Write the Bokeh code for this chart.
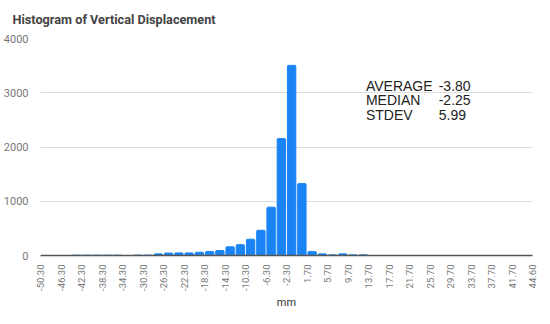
import math
from bokeh.plotting import figure
from bokeh.models import Range1d, FixedTicker, Label, ColumnDataSource, Title
from bokeh.embed import file_html
from bokeh.resources import INLINE

# Histogram bins (left edge of each 2-mm bin, last bin ends at max 44.60)
tick_labels = ["-50.30", "-46.30", "-42.30", "-38.30", "-34.30", "-30.30", "-26.30",
               "-22.30", "-18.30", "-14.30", "-10.30", "-6.30", "-2.30", "1.70", "5.70",
               "9.70", "13.70", "17.70", "21.70", "25.70", "29.70", "33.70", "37.70",
               "41.70", "44.60"]
counts = [0, 0, 0, 6, 6, 6, 6, 6, 0, 8, 8, 30, 45, 48, 48, 60, 75, 92, 160, 200,
          300, 465, 890, 2155, 3505, 1325, 72, 30, 12, 30, 12, 12,
          0, 0, 0, 0, 0, 0, 0, 0, 0, 0, 0, 0, 0, 0, 0, 0]
y_ticks = [0, 1000, 2000, 3000, 4000]
stat_names = ["AVERAGE", "MEDIAN", "STDEV"]
stat_values = ["-3.80", "-2.25", "5.99"]
title_text = "Histogram of Vertical Displacement"
x_title = "mm"

n = len(counts)
centers = [i + 0.5 for i in range(n)]
src = ColumnDataSource(dict(x=centers, top=counts))

p = figure(width=542, height=308, output_backend="svg", toolbar_location=None,
           x_range=Range1d(0, n), y_range=Range1d(0, 4000),
           min_border_left=29, min_border_right=10, min_border_top=38,
           min_border_bottom=48)
p.outline_line_color = None
p.background_fill_color = "white"

p.vbar(x="x", top="top", width=0.82, source=src, color="#1a84f5",
       border_radius=(1, 1, 0, 0))

# ticks
tick_pos = list(range(0, n - 1, 2)) + [n]
p.xaxis.ticker = FixedTicker(ticks=tick_pos)
p.xaxis.major_label_overrides = {t: lab for t, lab in zip(tick_pos, tick_labels)}
p.xaxis.major_label_orientation = math.pi / 2
p.xaxis.major_tick_line_color = None
p.xaxis.minor_tick_line_color = None
p.xaxis.axis_line_color = "#555555"
p.xaxis.axis_line_width = 1.3
p.xaxis.major_label_text_font = "Roboto"
p.xaxis.major_label_text_font_size = "9.5px"
p.xaxis.major_label_text_color = "#777777"
p.xaxis.major_label_standoff = 3

p.yaxis.ticker = FixedTicker(ticks=y_ticks)
p.yaxis.major_tick_line_color = None
p.yaxis.minor_tick_line_color = None
p.yaxis.axis_line_color = None
p.yaxis.major_label_text_font = "Roboto"
p.yaxis.major_label_text_font_size = "11px"
p.yaxis.major_label_text_color = "#777777"
p.yaxis.major_label_standoff = 6

p.xgrid.grid_line_color = None
p.ygrid.grid_line_color = "#dddddd"
p.ygrid.grid_line_width = 1

p.title.text = title_text
p.title.text_font = "Roboto"
p.title.text_font_size = "12.7px"
p.title.text_font_style = "bold"
p.title.align = "left"
p.title.vertical_align = "top"
p.title.offset = -28
p.title.standoff = 20

p.add_layout(Title(text=x_title, align="center", text_font="Roboto",
                   text_font_size="11px", text_font_style="normal",
                   text_line_height=0.4,
                   text_color="#333333", standoff=0), "below")

ys = [3130, 2860, 2590]
for name, val, yv in zip(stat_names, stat_values, ys):
    p.add_layout(Label(x=31.75, y=yv, text=name, text_font="Liberation Sans",
                       text_font_size="14px", text_baseline="middle",
                       text_color="#222222"))
    p.add_layout(Label(x=38.85, y=yv, text=val, text_font="Liberation Sans",
                       text_font_size="14px", text_baseline="middle",
                       text_color="#222222"))

open("out.html", "w").write(file_html(p, INLINE))
